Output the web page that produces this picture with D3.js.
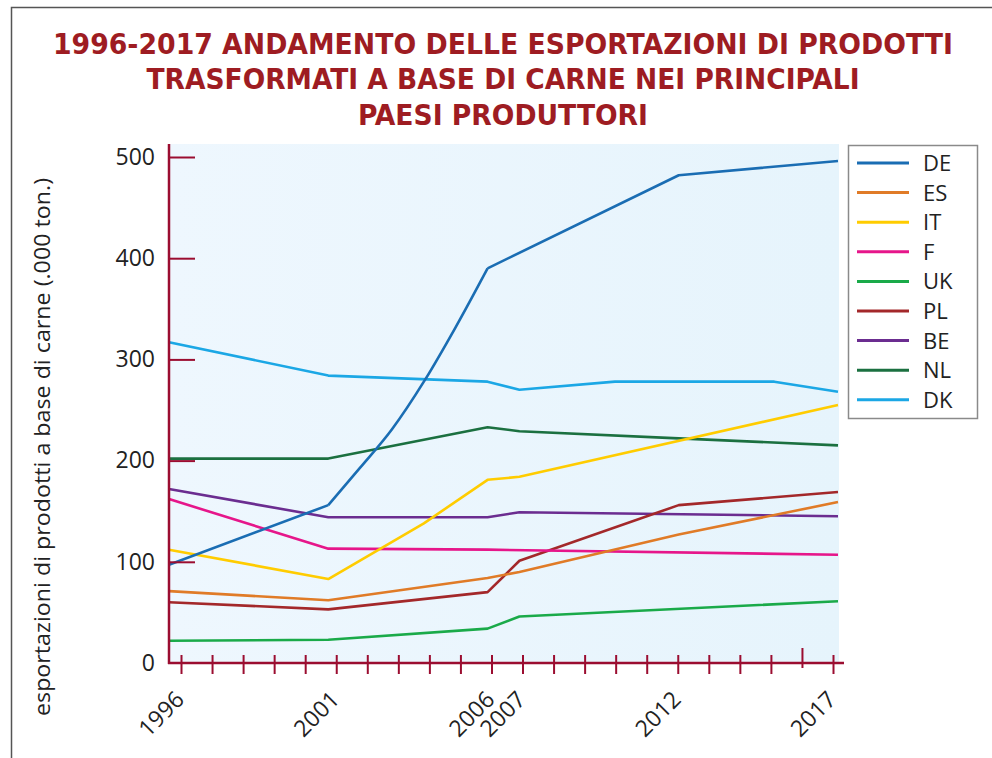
<html>
 <head>
  <meta charset="utf-8">
  <title>Esportazioni prodotti a base di carne</title>
  <script src="https://d3js.org/d3.v7.min.js"></script>
  <style>
   body { margin: 0; background: #fff; }
   text { font-family: "Open Sans", "Noto Sans", sans-serif; fill: #222; }
   .title { font-family: "DejaVu Sans Condensed", "Liberation Sans Narrow", "DejaVu Sans", sans-serif;
            font-weight: bold; font-size: 29px; fill: #9e1c22; }
   .serie { fill: none; stroke-width: 2.6; stroke-linejoin: round; }
  </style>
 </head>
 <body>
  <script>
   var w = 992, h = 758;

   // title, one entry per line
   var titleLines = ["1996-2017 ANDAMENTO DELLE ESPORTAZIONI DI PRODOTTI",
                     "TRASFORMATI A BASE DI CARNE NEI PRINCIPALI",
                     "PAESI PRODUTTORI"];
   var yLabel = "esportazioni di prodotti a base di carne (.000 ton.)";

   var countries = ["DE", "ES", "IT", "F", "UK", "PL", "BE", "NL", "DK"];
   var colors = ["#1a6db3", "#e07b27", "#ffcc00", "#e6168a", "#1aaa49",
                 "#a3282a", "#6b2d90", "#1b7040", "#1ba7e5"];

   // [anno, migliaia di tonnellate]
   var DE = [[1996, 97], [2001, 156], [2002, 193], [2003, 231], [2004, 278], [2005, 332],
             [2006, 390], [2012, 482], [2017, 496]];
   var ES = [[1996, 71], [2001, 62], [2006, 84], [2007, 90], [2012, 127], [2017, 159]];
   var IT = [[1996, 112], [2001, 83], [2004, 138], [2006, 181], [2007, 184], [2017, 255]];
   var F  = [[1996, 162], [2001, 113], [2006, 112], [2017, 107]];
   var UK = [[1996, 22], [2001, 23], [2006, 34], [2007, 46], [2017, 61]];
   var PL = [[1996, 60], [2001, 53], [2006, 70], [2007, 101], [2012, 156], [2017, 169]];
   var BE = [[1996, 172], [2001, 144], [2006, 144], [2007, 149], [2017, 145]];
   var NL = [[1996, 202], [2001, 202], [2006, 233], [2007, 229], [2012, 222], [2017, 215]];
   var DK = [[1996, 317], [2001, 284], [2006, 278], [2007, 270], [2010, 278], [2015, 278], [2017, 268]];
   var series = [DE, ES, IT, F, UK, PL, BE, NL, DK];

   // DE grows along a curve between these two years
   var curveFrom = 2001, curveTo = 2006;

   var allYears = d3.range(1996, 2018);
   var labelYears = [1996, 2001, 2006, 2007, 2012, 2017];
   var yTicks = [0, 100, 200, 300, 400, 500];

   var axisColor = "#9b0d30";
   var plotTop = 144;

   var svg = d3.select("body")
               .append("svg")
               .attr("width", w)
               .attr("height", h);

   // frame of the page
   svg.append("path")
      .attr("d", "M11.5," + h + "V7.5H" + w)
      .attr("fill", "none")
      .attr("stroke", "#555")
      .attr("stroke-width", 1.5);

   // title
   var titleWidths = [900, 713, 290];
   svg.selectAll(".title")
      .data(titleLines)
      .enter()
      .append("text")
      .attr("class", "title")
      .attr("x", 503)
      .attr("y", function(d, i) { return 53.5 + i * 35.5; })
      .attr("text-anchor", "middle")
      .attr("textLength", function(d, i) { return titleWidths[i]; })
      .attr("lengthAdjust", "spacingAndGlyphs")
      .text(function(d) { return d; });

   // scales
   var x = d3.scaleLinear().domain([1996, 2017]).range([169, 838]);
   var xTick = d3.scaleLinear().domain([1996, 2017]).range([181, 833]);
   var y = d3.scaleLinear().domain([0, 500]).range([663, 157]);

   // plot background
   var grad = svg.append("defs").append("linearGradient").attr("id", "bg");
   grad.append("stop").attr("offset", "0%").attr("stop-color", "#eef7fe");
   grad.append("stop").attr("offset", "100%").attr("stop-color", "#e6f4fc");
   svg.append("rect")
      .attr("x", x(1996))
      .attr("y", plotTop)
      .attr("width", x(2017) - x(1996) + 1)
      .attr("height", y(0) - plotTop)
      .attr("fill", "url(#bg)");

   // lines
   var line = d3.line()
                .x(function(d) { return x(d[0]); })
                .y(function(d) { return y(d[1]); });
   var smooth = d3.line()
                  .curve(d3.curveMonotoneX)
                  .x(function(d) { return x(d[0]); })
                  .y(function(d) { return y(d[1]); });

   function pathFor(i) {
    if (i !== 0) return line(series[i]);
    var a = series[i].filter(function(d) { return d[0] <= curveFrom; }),
        b = series[i].filter(function(d) { return d[0] >= curveFrom && d[0] <= curveTo; }),
        c = series[i].filter(function(d) { return d[0] >= curveTo; });
    return line(a) + smooth(b) + line(c);
   }

   var order = [8, 7, 6, 5, 4, 3, 1, 2, 0];
   svg.selectAll(".serie")
      .data(order)
      .enter()
      .append("path")
      .attr("class", "serie")
      .attr("stroke", function(i) { return colors[i]; })
      .attr("d", pathFor);

   // y axis
   var gy = svg.append("g")
               .attr("transform", "translate(" + x(1996) + ",0)")
               .call(d3.axisLeft(y)
                       .tickValues(yTicks)
                       .tickSize(-26)
                       .tickPadding(14));
   gy.select(".domain").remove();
   gy.selectAll(".tick line")
     .attr("stroke", axisColor)
     .attr("stroke-width", 2)
     .filter(function(d) { return d === 0; })
     .remove();
   gy.selectAll(".tick text")
     .attr("font-size", 23)
     .attr("fill", "#222");
   svg.append("line")
      .attr("x1", x(1996)).attr("x2", x(1996))
      .attr("y1", plotTop).attr("y2", y(0) + 1)
      .attr("stroke", axisColor)
      .attr("stroke-width", 2.5);

   // x axis
   var gx = svg.append("g")
               .attr("transform", "translate(0," + y(0) + ")")
               .call(d3.axisBottom(xTick)
                       .tickValues(allYears)
                       .tickSize(11)
                       .tickFormat(function(d) { return labelYears.indexOf(d) >= 0 ? d : ""; }));
   gx.select(".domain").remove();
   gx.selectAll(".tick line")
     .attr("y1", function(d) { return d === 2016 ? -15 : -8; })
     .attr("y2", function(d) { return d === 2016 ? 5 : 11; })
     .attr("stroke", axisColor)
     .attr("stroke-width", 2);
   gx.selectAll(".tick text")
     .attr("font-size", 23)
     .attr("fill", "#222")
     .attr("y", 0)
     .attr("dy", 0)
     .attr("text-anchor", "end")
     .attr("transform", "translate(4,38) rotate(-45)");
   svg.append("line")
      .attr("x1", x(1996) - 1).attr("x2", x(2017) + 6)
      .attr("y1", y(0)).attr("y2", y(0))
      .attr("stroke", axisColor)
      .attr("stroke-width", 2.5);

   // y title
   svg.append("text")
      .attr("transform", "translate(50,447) rotate(-90)")
      .attr("text-anchor", "middle")
      .attr("font-size", 21)
      .attr("textLength", 538)
      .attr("lengthAdjust", "spacingAndGlyphs")
      .text(yLabel);

   // legend
   var legend = svg.append("g").attr("transform", "translate(848,145)");
   legend.append("rect")
         .attr("x", 0.5).attr("y", 0.5)
         .attr("width", 129).attr("height", 273)
         .attr("fill", "#fff")
         .attr("stroke", "#8a8a8a")
         .attr("stroke-width", 1.5);
   var rows = legend.selectAll(".row")
                    .data(countries)
                    .enter()
                    .append("g")
                    .attr("transform", function(d, i) { return "translate(0," + (18 + i * 29.6) + ")"; });
   rows.append("line")
       .attr("x1", 9).attr("x2", 61)
       .attr("stroke-width", 3)
       .attr("stroke", function(d, i) { return colors[i]; });
   rows.append("text")
       .attr("x", 75)
       .attr("dy", "0.36em")
       .attr("font-size", 22)
       .text(function(d) { return d; });
  </script>
 </body>
</html>
